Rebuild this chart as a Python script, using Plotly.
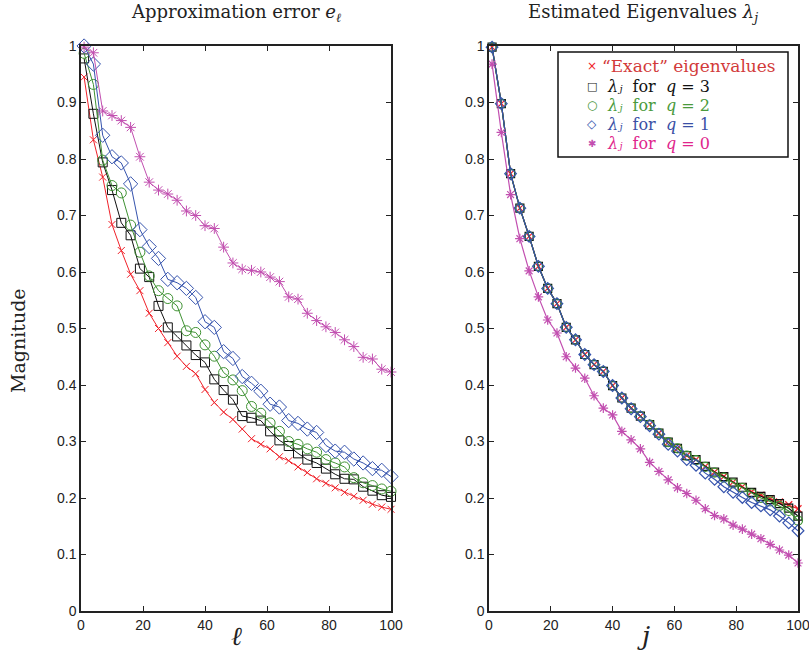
import plotly.graph_objects as go

# ---------------- data ----------------
idx = [1, 4, 7, 10, 13, 16, 19, 22, 25, 28, 31, 34, 37, 40, 43, 46, 49, 52, 55, 58,
       61, 64, 67, 70, 73, 76, 79, 82, 85, 88, 91, 94, 97, 100]

# Left panel: approximation error e_l
err_exact = [0.945, 0.834, 0.768, 0.684, 0.638, 0.596, 0.567, 0.527, 0.500, 0.475,
             0.451, 0.433, 0.420, 0.392, 0.369, 0.352, 0.339, 0.322, 0.305, 0.295,
             0.287, 0.273, 0.266, 0.255, 0.245, 0.234, 0.226, 0.218, 0.210, 0.203,
             0.196, 0.189, 0.184, 0.180]
err_q3 = [0.978, 0.880, 0.794, 0.745, 0.687, 0.665, 0.606, 0.591, 0.540, 0.502,
          0.486, 0.470, 0.453, 0.440, 0.410, 0.391, 0.374, 0.345, 0.342, 0.337,
          0.318, 0.302, 0.292, 0.279, 0.268, 0.262, 0.252, 0.242, 0.234, 0.233,
          0.220, 0.213, 0.205, 0.202]
err_q2 = [0.987, 0.932, 0.798, 0.753, 0.740, 0.683, 0.635, 0.593, 0.567, 0.553,
          0.540, 0.496, 0.493, 0.471, 0.451, 0.422, 0.409, 0.390, 0.362, 0.350,
          0.333, 0.318, 0.300, 0.295, 0.287, 0.281, 0.268, 0.262, 0.255, 0.236,
          0.227, 0.222, 0.216, 0.212]
err_q1 = [1.000, 0.968, 0.842, 0.804, 0.793, 0.756, 0.675, 0.645, 0.624, 0.587,
          0.581, 0.571, 0.555, 0.512, 0.502, 0.459, 0.447, 0.415, 0.403, 0.389,
          0.366, 0.361, 0.337, 0.332, 0.322, 0.316, 0.293, 0.283, 0.281, 0.269,
          0.262, 0.252, 0.249, 0.238]
err_q0 = [0.998, 0.988, 0.885, 0.877, 0.868, 0.856, 0.804, 0.759, 0.745, 0.738,
          0.727, 0.708, 0.700, 0.682, 0.677, 0.644, 0.616, 0.605, 0.603, 0.600,
          0.591, 0.583, 0.556, 0.552, 0.527, 0.514, 0.503, 0.493, 0.480, 0.468,
          0.449, 0.446, 0.428, 0.423]

# Right panel: estimated eigenvalues lambda_j
eig_exact = [0.998, 0.898, 0.774, 0.713, 0.663, 0.610, 0.571, 0.544, 0.502, 0.480,
             0.454, 0.436, 0.424, 0.399, 0.377, 0.359, 0.345, 0.330, 0.315, 0.299,
             0.288, 0.275, 0.268, 0.256, 0.246, 0.238, 0.228, 0.220, 0.211, 0.205,
             0.199, 0.193, 0.188, 0.181]
eig_q3 = [0.998, 0.898, 0.774, 0.713, 0.663, 0.610, 0.571, 0.544, 0.502, 0.480,
          0.454, 0.436, 0.424, 0.399, 0.377, 0.359, 0.345, 0.330, 0.315, 0.299,
          0.288, 0.275, 0.268, 0.256, 0.246, 0.238, 0.228, 0.219, 0.210, 0.203,
          0.197, 0.190, 0.182, 0.168]
eig_q2 = [0.998, 0.898, 0.774, 0.713, 0.663, 0.610, 0.571, 0.544, 0.502, 0.480,
          0.454, 0.436, 0.424, 0.399, 0.377, 0.359, 0.345, 0.330, 0.315, 0.299,
          0.288, 0.275, 0.267, 0.255, 0.245, 0.236, 0.226, 0.218, 0.208, 0.200,
          0.194, 0.186, 0.177, 0.160]
eig_q1 = [0.998, 0.898, 0.774, 0.713, 0.663, 0.610, 0.571, 0.544, 0.502, 0.480,
          0.454, 0.436, 0.424, 0.399, 0.377, 0.358, 0.344, 0.328, 0.313, 0.295,
          0.283, 0.268, 0.258, 0.244, 0.233, 0.220, 0.210, 0.201, 0.192, 0.186,
          0.179, 0.168, 0.156, 0.142]
eig_q0 = [0.968, 0.847, 0.737, 0.659, 0.602, 0.556, 0.515, 0.492, 0.450, 0.430,
          0.412, 0.381, 0.359, 0.347, 0.318, 0.303, 0.287, 0.263, 0.247, 0.232,
          0.218, 0.208, 0.196, 0.181, 0.169, 0.163, 0.152, 0.145, 0.136, 0.128,
          0.118, 0.108, 0.099, 0.085]

x_ticks = [0, 20, 40, 60, 80, 100]
y_ticks = [0, 0.1, 0.2, 0.3, 0.4, 0.5, 0.6, 0.7, 0.8, 0.9, 1]
y_tick_labels = ["0", "0.1", "0.2", "0.3", "0.4", "0.5", "0.6", "0.7", "0.8", "0.9", "1"]

legend_labels = [
    "“Exact” eigenvalues",
    "<i>λⱼ</i>  for  <i>q</i> = 3",
    "<i>λⱼ</i>  for  <i>q</i> = 2",
    "<i>λⱼ</i>  for  <i>q</i> = 1",
    "<i>λⱼ</i>  for  <i>q</i> = 0",
]
legend_glyphs = ["×", "□", "○", "◇", "✱"]

# ---------------- styles ----------------
RED = "#f0222a"
BLACK = "#111111"
GREEN = "#3f9233"
BLUE = "#3553ad"
PURPLE = "#c24fb0"
TEXT_COLORS = ["#d23a3a", "#111111", "#4a9a3c", "#3a4fa5", "#e0258c"]
GLYPH_SIZES = [12, 11, 12, 12, 10]
LABEL_SIZES = [17, 16, 16, 16, 16]

series_style = [
    # (symbol, color, left size, right size)
    ("x-thin-open", RED, 7, 7),
    ("square-open", BLACK, 9, 8),
    ("circle-open", GREEN, 10, 9),
    ("diamond-open", BLUE, 11, 9),
    ("asterisk-open", PURPLE, 9, 8),
]
left_data = [err_exact, err_q3, err_q2, err_q1, err_q0]
right_data = [eig_exact, eig_q3, eig_q2, eig_q1, eig_q0]

fig = go.Figure()

for i in range(5):
    sym, col, sl, sr = series_style[i]
    fig.add_trace(go.Scatter(
        x=idx, y=left_data[i], mode="lines+markers",
        line=dict(color=col, width=1),
        marker=dict(symbol=sym, size=sl, color=col, line=dict(color=col, width=1)),
        showlegend=False, cliponaxis=False, xaxis="x", yaxis="y"))
for i in range(5):
    sym, col, sl, sr = series_style[i]
    fig.add_trace(go.Scatter(
        x=idx, y=right_data[i], mode="lines+markers",
        line=dict(color=col, width=1.2),
        marker=dict(symbol=sym, size=sr, color=col, line=dict(color=col, width=1.2)),
        showlegend=False, cliponaxis=False, xaxis="x2", yaxis="y2"))

axis_common = dict(
    range=[0, 100], tickvals=x_ticks, ticks="inside", ticklen=5, tickwidth=1,
    tickcolor="#222", showline=True, linecolor="#222", linewidth=1.5,
    mirror="ticks", showgrid=False, zeroline=False, automargin=False,
    ticklabeloverflow="allow",
    tickfont=dict(family="Liberation Sans, Arial, sans-serif", size=14, color="#222"),
)
yaxis_common = dict(
    range=[0, 1], tickvals=y_ticks, ticktext=y_tick_labels, ticks="inside", ticklen=5,
    tickwidth=1, tickcolor="#222", showline=True, linecolor="#222", linewidth=1.5,
    mirror="ticks", showgrid=False, zeroline=False, automargin=False,
    tickfont=dict(family="Liberation Sans, Arial, sans-serif", size=14, color="#222"),
)

serif = "DejaVu Serif, Liberation Serif, serif"

# plot area: 81..798 px horizontally (717 px), 46..611 px vertically (565 px)
def px_x(p):
    return (p - 81) / 717.0

def px_y(p):
    return (611 - p) / 565.0

annotations = [
    dict(text="Approximation error <i>e<sub>ℓ</sub></i>", x=0.2162, y=1.0,
         xref="paper", yref="paper", xanchor="center", yanchor="bottom",
         yshift=19, showarrow=False, font=dict(family=serif, size=18, color="#222")),
    dict(text="Estimated Eigenvalues <i>λ<sub>j</sub></i>", x=0.7845, y=1.0,
         xref="paper", yref="paper", xanchor="center", yanchor="bottom",
         yshift=19, showarrow=False, font=dict(family=serif, size=18, color="#222")),
    dict(text="<i>ℓ</i>", x=0.2162, y=0, xref="paper", yref="paper",
         xanchor="center", yanchor="top", yshift=-8, showarrow=False,
         font=dict(family=serif, size=26, color="#222")),
    dict(text="<i>j</i>", x=0.7845, y=0, xref="paper", yref="paper",
         xanchor="center", yanchor="top", yshift=-8, showarrow=False,
         font=dict(family=serif, size=26, color="#222")),
    dict(text="Magnitude", x=0, y=0.478, xref="paper", yref="paper",
         xanchor="center", yanchor="middle", xshift=-63, textangle=-90,
         showarrow=False, font=dict(family=serif, size=19, color="#222")),
]

# legend (drawn as box + text rows)
row_px = [66, 86, 105.5, 124.5, 143.5]
for k in range(5):
    annotations.append(dict(
        text=legend_glyphs[k], x=px_x(592), y=px_y(row_px[k]), xref="paper", yref="paper",
        xanchor="center", yanchor="middle", showarrow=False,
        font=dict(family="DejaVu Sans, sans-serif", size=GLYPH_SIZES[k],
                  color=series_style[k][1])))
    annotations.append(dict(
        text=legend_labels[k], x=px_x(600 if k == 0 else 605), y=px_y(row_px[k]),
        xref="paper", yref="paper", xanchor="left", yanchor="middle", showarrow=False,
        font=dict(family=serif, size=LABEL_SIZES[k], color=TEXT_COLORS[k])))

fig.update_layout(
    width=809, height=665,
    margin=dict(l=81, r=11, t=46, b=54),
    paper_bgcolor="white", plot_bgcolor="white",
    showlegend=False,
    xaxis=dict(domain=[0, 0.4324], anchor="y", **axis_common),
    yaxis=dict(domain=[0, 1], anchor="x", **yaxis_common),
    xaxis2=dict(domain=[0.569, 1], anchor="y2", **axis_common),
    yaxis2=dict(domain=[0, 1], anchor="x2", **yaxis_common),
    annotations=annotations,
    shapes=[dict(type="rect", xref="paper", yref="paper",
                 x0=px_x(558), x1=px_x(788), y0=px_y(157), y1=px_y(52),
                 line=dict(color="#111", width=1.5), fillcolor="white", layer="above")],
)

# remove the default 8px page margin so the figure fills the 809x665 window exactly
fig.write_html("out.html",
               config={"displayModeBar": False},
               post_script="document.body.style.margin='0';document.body.style.overflow='hidden';")
